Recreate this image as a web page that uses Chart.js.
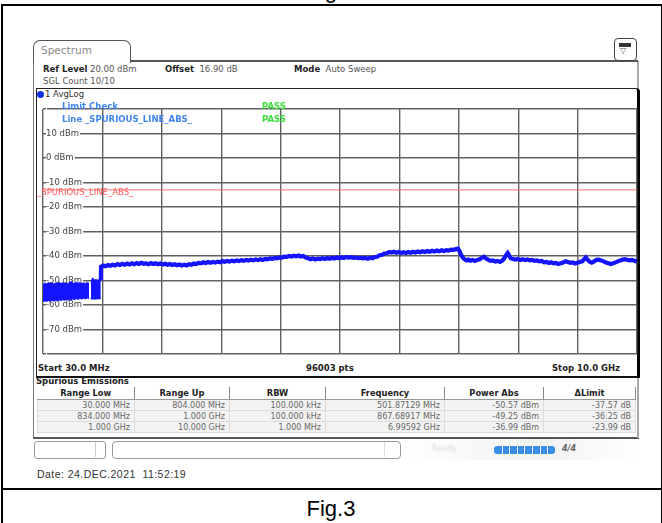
<!DOCTYPE html>
<html><head><meta charset="utf-8">
<script src="https://cdn.jsdelivr.net/npm/chart.js@4/dist/chart.umd.min.js"></script>
<style>
body{margin:0;width:662px;height:523px;background:#fff;position:relative;overflow:hidden;font-family:"DejaVu Sans",sans-serif;}
.a{position:absolute;white-space:nowrap;line-height:1;}
.b{font-weight:bold;}
#tbl{position:absolute;left:37px;top:387px;border-collapse:collapse;table-layout:fixed;font-size:8px;}
#tbl td,#tbl th{padding:0 4px;white-space:nowrap;overflow:hidden;}
#tbl th{height:12px;font-weight:bold;color:#222;text-align:center;border-right:1px solid #8a8a8a;border-bottom:1px solid #9a9a9a;background:#fff;font-size:8.3px;}
#tbl td{height:10px;color:#666;text-align:right;background:#f3f3f3;border:1px solid #dcdcdc;}
</style></head><body>

<!-- document frame -->
<div class="a" style="left:0;top:-20px;width:662px;text-align:center;font:22px 'Liberation Sans',Arial;line-height:22px;">Fig.2</div>
<div class="a" style="left:0;top:0;width:662px;height:4px;"></div>
<div class="a" style="left:1px;top:4px;width:658px;height:530px;border:2px solid #000;border-bottom:none;"></div>
<div class="a" style="left:1px;top:488px;width:660px;height:2px;background:#000;"></div>
<div class="a" style="left:0;top:496px;width:662px;text-align:center;font:22px 'Liberation Sans',Arial;">Fig.3</div>
<div class="a" id="date" style="left:37px;top:468px;font:10.5px 'Liberation Sans',Arial;letter-spacing:0.45px;color:#333;white-space:pre;"></div>

<!-- spectrum window -->
<div class="a" style="left:33px;top:61px;width:1px;height:377px;background:#777;"></div>
<div class="a" style="left:33px;top:437px;width:606px;height:2px;background:#555;"></div>
<div class="a" style="left:637px;top:61px;width:2px;height:377px;background:#aaa;"></div>
<div class="a" style="left:33px;top:40px;width:96px;height:22px;border:1.5px solid #555;border-bottom:none;border-radius:7px 7px 0 0;background:#fff;"></div>
<div class="a" style="left:41px;top:45px;font-size:10.5px;color:#8a8a8a;">Spectrum</div>
<div class="a" style="left:130px;top:60px;width:508px;height:1.5px;background:#555;"></div>
<div class="a" style="left:614px;top:38px;width:21px;height:21px;border:1.5px solid #444;border-radius:4px;background:#fff;"></div>
<div class="a" style="left:619px;top:43px;width:12px;height:4px;background:#333;"></div>
<div class="a" style="left:620px;top:47px;font-size:8px;color:#555;">▽</div>

<div class="a" style="left:43px;top:65px;font-size:8.5px;color:#222;"><span class="b">Ref Level</span> <span style="color:#555">20.00 dBm</span></div>
<div class="a" style="left:165px;top:65px;font-size:8.5px;color:#222;"><span class="b">Offset</span> <span style="color:#555">&nbsp;16.90 dB</span></div>
<div class="a" style="left:294px;top:65px;font-size:8.5px;color:#222;"><span class="b">Mode</span> <span style="color:#555">&nbsp;Auto Sweep</span></div>
<div class="a" style="left:43px;top:77px;font-size:8.5px;color:#555;">SGL Count 10/10</div>

<!-- plot frame -->
<div class="a" style="left:36px;top:88px;width:600px;height:287px;border:1.5px solid #222;border-right:3px solid #000;border-bottom:2px solid #111;border-radius:0 4px 0 0;background:#fff;"></div>
<div class="a" style="left:37px;top:91px;width:7px;height:7px;border-radius:50%;background:#1030e0;"></div>
<div class="a" style="left:45px;top:90px;font-size:8.5px;color:#333;">1 AvgLog</div>

<canvas id="c" width="601" height="261" style="position:absolute;left:37px;top:101px;"></canvas>

<div class="a b" style="left:62px;top:102px;font-size:8.5px;color:#3f86f2;">Limit Check</div>
<div class="a b" style="left:62px;top:115px;font-size:8.5px;color:#3f86f2;">Line _SPURIOUS_LINE_ABS_</div>
<div class="a b" style="left:262px;top:102px;font-size:8.5px;color:#3be03b;">PASS</div>
<div class="a b" style="left:262px;top:115px;font-size:8.5px;color:#3be03b;">PASS</div>
<div class="a" style="left:37px;top:188px;font-size:8.5px;color:#ff5a5a;">_SPURIOUS_LINE_ABS_</div>

<div class="a b" style="left:38px;top:364px;font-size:8.5px;color:#222;">Start 30.0 MHz</div>
<div class="a b" style="left:306px;top:364px;font-size:8.5px;color:#222;">96003 pts</div>
<div class="a b" style="left:552px;top:364px;font-size:8.5px;color:#222;">Stop 10.0 GHz</div>

<div class="a b" style="left:36px;top:377px;font-size:8.5px;color:#222;">Spurious Emissions</div>
<table id="tbl"><colgroup><col style="width:97px"><col style="width:95px"><col style="width:96px"><col style="width:119px"><col style="width:99px"><col style="width:92px"></colgroup><thead><tr id="hdr"></tr></thead><tbody id="tb"></tbody></table>

<!-- status bar -->
<div class="a" style="left:400px;top:439px;width:238px;height:21px;background:linear-gradient(90deg,#fff,#f2f2f2 60%,#fff);"></div>
<div class="a" style="left:34px;top:441px;width:70px;height:16px;border:1px solid #999;border-radius:3px;"></div>
<div class="a" style="left:95px;top:442px;width:1px;height:15px;background:#ccc;"></div>
<div class="a" style="left:112px;top:441px;width:287px;height:16px;border:1px solid #999;border-radius:4px;"></div>
<div class="a" style="left:384px;top:442px;width:1px;height:15px;background:#ddd;"></div>
<div class="a" style="left:432px;top:445px;font-size:8px;color:#e0e0e0;">Ready</div>
<div class="a" id="prog" style="left:494px;top:446px;width:61px;height:8px;background:#3a8ee8;border-radius:3px;"></div>
<div class="a b" style="left:562px;top:445px;font-size:8px;color:#666;font-style:italic;">4/4</div>

<script>
// ---- axis / scale definitions ----
const startMHz = 30;
const stopMHz = 10000;
const refLevelDbm = 20;
const bottomLevelDbm = -80;
const yTickValues = [20, 10, 0, -10, -20, -30, -40, -50, -60, -70, -80];
const yTickLabels = ['', '10 dBm', '0 dBm', '-10 dBm', '-20 dBm', '-30 dBm', '-40 dBm', '-50 dBm', '-60 dBm', '-70 dBm', ''];
const limitLevelDbm = -13;

// ---- trace: 30 MHz - 804 MHz range (noise band envelope) ----
const band1Freq  = [30, 60, 90, 120, 150, 180, 210, 240, 270, 300, 330, 360, 390, 420, 450, 480, 502, 530, 560, 590, 620, 650, 680, 710, 740, 770, 804];
const band1Upper = [-51.8, -51.2, -51.6, -51.0, -51.5, -51.1, -51.7, -51.2, -51.4, -50.9, -51.5, -51.0, -51.3, -51.1, -51.6, -51.0, -50.57, -51.2, -51.4, -50.9, -51.3, -51.0, -51.4, -51.1, -51.5, -51.0, -51.3];
const band1Lower = [-58.6, -58.2, -58.5, -58.0, -58.4, -57.9, -58.3, -57.8, -58.2, -57.7, -58.1, -57.6, -58.0, -57.5, -57.9, -57.4, -57.8, -57.3, -57.7, -57.2, -57.6, -57.1, -57.5, -57.0, -57.4, -57.0, -57.3];

// ---- trace: 834 MHz - 1 GHz range (noise band envelope) ----
const band2Freq  = [834, 850, 867.69, 885, 900, 920, 940, 960, 980, 1000];
const band2Upper = [-50.2, -49.8, -49.25, -49.9, -50.0, -49.7, -50.1, -49.8, -50.0, -49.8];
const band2Lower = [-57.6, -57.3, -57.5, -57.2, -57.6, -57.3, -57.5, -57.2, -57.4, -57.3];

// ---- trace: 1 GHz - 10 GHz range ----
const traceFreq = [1000,1004,1040,1080,1120,1160,1200,1240,1280,1320,1360,1400,1440,1480,1520,1560,1600,1640,1680,1720,1760,1800,1840,1880,1920,1960,2000,2040,2080,2120,2160,2200,2240,2280,2320,2360,2400,2440,2480,2520,2560,2600,2640,2680,2720,2760,2800,2840,2880,2920,2960,3000,3040,3080,3120,3160,3200,3240,3280,3320,3360,3400,3440,3480,3520,3560,3600,3640,3680,3720,3760,3800,3840,3880,3920,3960,4000,4040,4080,4120,4160,4200,4240,4280,4320,4360,4400,4440,4480,4520,4560,4600,4640,4680,4720,4760,4800,4840,4880,4920,4960,5000,5040,5080,5120,5160,5200,5240,5280,5320,5360,5400,5440,5480,5520,5560,5600,5640,5680,5720,5760,5800,5840,5880,5920,5960,6000,6040,6080,6120,6160,6200,6240,6280,6320,6360,6400,6440,6480,6520,6560,6600,6640,6680,6720,6760,6800,6840,6880,6920,6960,6995.92,7020,7050,7080,7110,7140,7170,7200,7240,7280,7320,7360,7400,7430,7460,7500,7540,7580,7620,7660,7700,7740,7770,7800,7830,7850,7880,7920,7960,8000,8040,8080,8120,8160,8200,8240,8280,8320,8360,8400,8440,8480,8520,8560,8600,8640,8680,8720,8760,8800,8840,8880,8920,8960,9000,9040,9080,9110,9140,9170,9200,9240,9280,9320,9360,9400,9440,9480,9520,9560,9600,9640,9680,9720,9760,9800,9840,9880,9920,9960,10000];
const traceLevel = [-50.0,-44.4,-43.9,-44.2,-43.7,-44.0,-43.6,-43.9,-43.3,-43.7,-43.2,-43.6,-43.1,-43.5,-43.0,-43.4,-42.9,-43.3,-42.8,-43.2,-43.0,-43.4,-42.9,-43.3,-43.0,-43.4,-43.1,-43.5,-43.2,-43.6,-43.3,-43.7,-43.4,-43.8,-43.5,-43.9,-43.6,-43.9,-43.4,-43.6,-43.1,-43.3,-42.8,-43.0,-42.6,-42.9,-42.5,-42.8,-42.4,-42.7,-42.3,-42.6,-42.1,-42.4,-42.0,-42.3,-41.9,-42.2,-41.8,-42.1,-41.7,-42.0,-41.6,-41.9,-41.5,-41.8,-41.4,-41.7,-41.3,-41.6,-41.2,-41.4,-41.0,-41.2,-40.8,-41.0,-40.6,-40.7,-40.3,-40.4,-40.0,-40.2,-39.9,-40.1,-39.8,-40.2,-40.0,-40.6,-40.9,-41.3,-41.0,-41.4,-41.1,-41.3,-40.9,-41.2,-40.8,-41.1,-40.7,-41.0,-40.6,-40.9,-40.5,-40.8,-40.4,-40.7,-40.5,-40.8,-40.6,-40.9,-40.7,-41.0,-40.8,-41.1,-40.7,-40.9,-40.4,-40.3,-39.7,-39.5,-39.0,-38.9,-38.4,-38.6,-38.3,-38.7,-38.4,-38.8,-38.5,-38.8,-38.4,-38.7,-38.3,-38.6,-38.2,-38.5,-38.1,-38.4,-38.0,-38.3,-37.9,-38.2,-37.8,-38.1,-37.7,-38.0,-37.6,-37.8,-37.4,-37.5,-37.2,-36.99,-38.0,-39.6,-40.8,-41.4,-41.8,-41.5,-41.9,-41.6,-42.0,-41.6,-41.4,-40.6,-40.3,-40.9,-41.5,-42.0,-41.8,-42.3,-42.0,-42.4,-41.9,-41.0,-39.8,-38.8,-39.6,-40.9,-41.2,-41.5,-41.2,-41.6,-41.3,-41.7,-41.4,-41.8,-41.6,-42.0,-41.8,-42.2,-42.0,-42.6,-42.4,-42.9,-42.6,-43.0,-42.8,-43.3,-43.0,-42.7,-42.2,-42.5,-42.8,-42.6,-43.1,-42.8,-42.5,-42.2,-41.4,-40.6,-41.5,-42.3,-42.7,-42.2,-41.6,-41.5,-41.9,-42.2,-42.7,-43.0,-43.3,-43.0,-42.6,-42.2,-41.8,-41.5,-41.3,-41.6,-41.8,-41.6,-42.0,-42.2];

// ---- spurious emissions table ----
const tableHeaders = ['Range Low', 'Range Up', 'RBW', 'Frequency', 'Power Abs', '\u0394Limit'];
const rangeLow   = ['30.000 MHz', '834.000 MHz', '1.000 GHz'];
const rangeUp    = ['804.000 MHz', '1.000 GHz', '10.000 GHz'];
const rbw        = ['100.000 kHz', '100.000 kHz', '1.000 MHz'];
const peakFreq   = ['501.87129 MHz', '867.68917 MHz', '6.99592 GHz'];
const powerAbs   = ['-50.57 dBm', '-49.25 dBm', '-36.99 dBm'];
const deltaLimit = ['-37.57 dB', '-36.25 dB', '-23.99 dB'];
const dateText = 'Date: 24.DEC.2021  11:52:19';

document.getElementById('date').textContent = dateText;
document.getElementById('hdr').innerHTML = tableHeaders.map(h => '<th>' + h + '</th>').join('');
document.getElementById('tb').innerHTML = rangeLow.map((_, i) =>
  '<tr>' + [rangeLow[i], rangeUp[i], rbw[i], peakFreq[i], powerAbs[i], deltaLimit[i]].map(v => '<td>' + v + '</td>').join('') + '</tr>'
).join('');
// progress bar segments
const prog = document.getElementById('prog');
for (let i = 1; i < 8; i++) {
  const s = document.createElement('div');
  s.style.cssText = 'position:absolute;top:0;width:1px;height:8px;background:#fff;left:' + (i * 7.6) + 'px';
  prog.appendChild(s);
}

const pts = (xs, ys) => xs.map((x, i) => ({ x: x, y: ys[i] }));
const BLUE = '#1414ff';

new Chart(document.getElementById('c'), {
  type: 'line',
  data: {
    datasets: [
      { data: pts(traceFreq, traceLevel), borderColor: BLUE, borderWidth: 4.2, pointRadius: 0, fill: false, tension: 0 },
      { data: pts(band1Freq, band1Upper), borderColor: BLUE, borderWidth: 1.5, pointRadius: 0, fill: '+1', backgroundColor: BLUE, tension: 0 },
      { data: pts(band1Freq, band1Lower), borderColor: BLUE, borderWidth: 1.5, pointRadius: 0, fill: false, tension: 0 },
      { data: pts(band2Freq, band2Upper), borderColor: BLUE, borderWidth: 1.5, pointRadius: 0, fill: '+1', backgroundColor: BLUE, tension: 0 },
      { data: pts(band2Freq, band2Lower), borderColor: BLUE, borderWidth: 1.5, pointRadius: 0, fill: false, tension: 0 },
      { data: [{ x: startMHz, y: limitLevelDbm }, { x: stopMHz, y: limitLevelDbm }], borderColor: '#ff6b6b', borderWidth: 1, pointRadius: 0, fill: false }
    ]
  },
  options: {
    responsive: false,
    animation: false,
    devicePixelRatio: 1,
    layout: { padding: { left: 0, top: 0, right: 1, bottom: 1 } },
    plugins: { legend: { display: false }, tooltip: { enabled: false } },
    scales: {
      x: {
        type: 'linear', min: startMHz, max: stopMHz,
        afterBuildTicks: sc => { sc.ticks = Array.from({ length: 11 }, (_, i) => ({ value: startMHz + i * (stopMHz - startMHz) / 10 })); },
        ticks: { display: false },
        grid: { color: '#626262', lineWidth: 1.4, drawTicks: false },
        border: { display: false }
      },
      y: {
        type: 'linear', min: bottomLevelDbm, max: refLevelDbm,
        afterBuildTicks: sc => { sc.ticks = yTickValues.map(v => ({ value: v })); },
        ticks: {
          mirror: true, padding: 3, color: '#444',
          font: { family: 'DejaVu Sans', size: 8.5 },
          callback: v => yTickLabels[yTickValues.indexOf(v)],
          showLabelBackdrop: true, backdropColor: '#ffffff', backdropPadding: { top: 0, bottom: 0, left: 0, right: 1 }
        },
        grid: { color: '#626262', lineWidth: 1.4, drawTicks: false },
        border: { display: false }
      }
    }
  }
});
</script>
</body></html>
